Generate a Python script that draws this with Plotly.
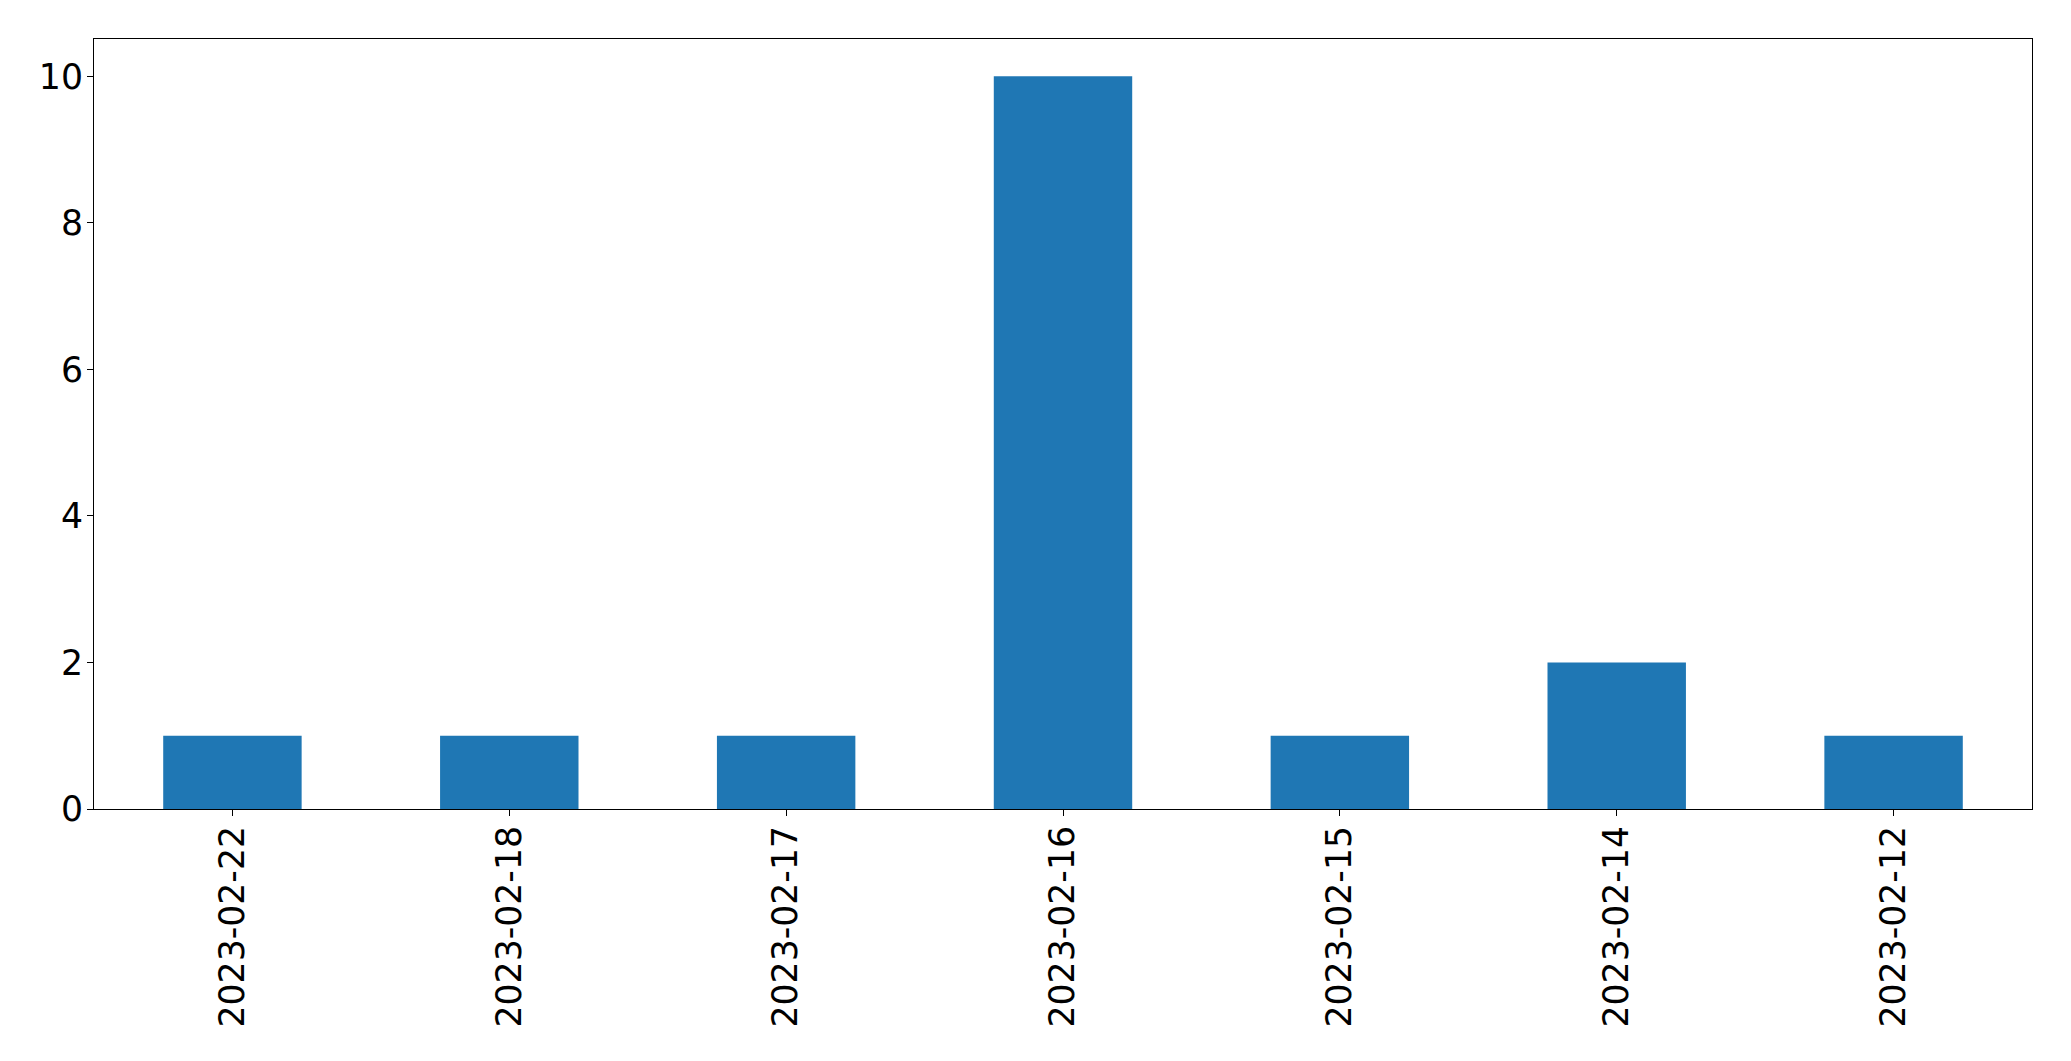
import plotly.graph_objects as go

dates = ["2023-02-22", "2023-02-18", "2023-02-17", "2023-02-16", "2023-02-15", "2023-02-14", "2023-02-12"]
counts = [1, 1, 1, 10, 1, 2, 1]
y_ticks = [0, 2, 4, 6, 8, 10]

fig = go.Figure(go.Bar(x=dates, y=counts, width=0.5, marker=dict(color="#1f77b4", line=dict(width=0))))

# page body has an 8px default margin; size the figure to fit inside it
fig.update_layout(
    width=2055, height=1045,
    margin=dict(l=86, r=31, t=31, b=244),
    paper_bgcolor="white", plot_bgcolor="white",
    font=dict(family="DejaVu Sans", size=34.7, color="black"),
    showlegend=False,
)
fig.update_xaxes(
    type="category", range=[-0.5, 6.5],
    showline=True, linecolor="black", linewidth=1.2, mirror=True,
    ticks="outside", ticklen=6, tickwidth=1.2, tickcolor="black",
    tickangle=-90, showgrid=False, zeroline=False, ticklabelstandoff=-4,
)
fig.update_yaxes(
    range=[0, 10.51], tickvals=y_ticks,
    showline=True, linecolor="black", linewidth=1.2, mirror=True,
    ticks="outside", ticklen=6, tickwidth=1.2, tickcolor="black",
    showgrid=False, zeroline=False, ticklabelstandoff=-3,
)

fig.write_html("out.html")
